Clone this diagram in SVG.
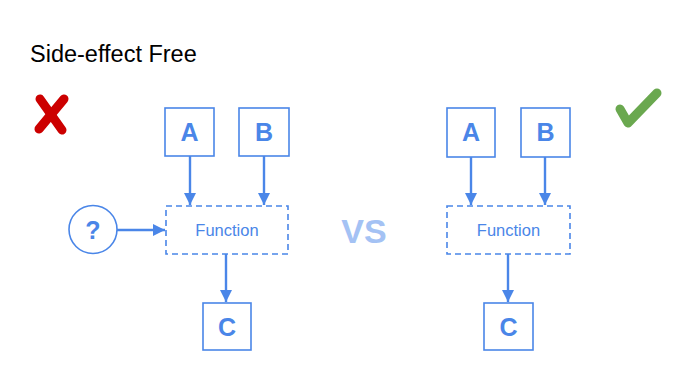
<svg xmlns="http://www.w3.org/2000/svg" width="680" height="383" viewBox="0 0 680 383">
<defs>
<style>
.box{fill:#fff;stroke:#4a86e8;stroke-width:1.6}
.fn{fill:#fff;stroke:#4a86e8;stroke-width:1.6;stroke-dasharray:6 4}
.lbl{font-family:"Liberation Sans",Arial,sans-serif;font-weight:bold;font-size:25px;fill:#4a86e8;text-anchor:middle}
.ft{font-family:"Liberation Sans",Arial,sans-serif;font-size:16.5px;fill:#4a86e8;text-anchor:middle}
.ar{stroke:#4a86e8;stroke-width:2.4;fill:none;marker-end:url(#ah)}
</style>
<marker id="ah" viewBox="0 0 10 10" refX="10" refY="5" markerWidth="5" markerHeight="5" orient="auto" markerUnits="strokeWidth">
<path d="M0,0 L10,5 L0,10 z" fill="#4a86e8"/>
</marker>
</defs>
<rect width="680" height="383" fill="#fff"/>
<text x="30" y="62" font-family="'Liberation Sans',Arial,sans-serif" font-size="23.5" fill="#000">Side-effect Free</text>
<g id="cross" stroke="#cc0000" stroke-width="9" stroke-linecap="round" fill="none">
<line x1="40" y1="99" x2="62" y2="130"/>
<line x1="64" y1="99" x2="39" y2="129"/>
</g>
<g id="check">
<polyline points="620,109 628,123 657,93" fill="none" stroke="#6aa84f" stroke-width="9" stroke-linecap="round" stroke-linejoin="round"/>
</g>
<text x="364" y="243" font-family="'Liberation Sans',Arial,sans-serif" font-weight="bold" font-size="34" fill="#a4c2f4" text-anchor="middle">VS</text>
<g id="connectors">
<line class="ar" x1="190" y1="156" x2="190" y2="205"/>
<line class="ar" x1="264" y1="156" x2="264" y2="205"/>
<line class="ar" x1="117" y1="230" x2="165" y2="230"/>
<line class="ar" x1="226" y1="254" x2="226" y2="302"/>
<line class="ar" x1="471" y1="157" x2="471" y2="205"/>
<line class="ar" x1="545" y1="157" x2="545" y2="205"/>
<line class="ar" x1="508" y1="254" x2="508" y2="302"/>
</g>
<g id="L-A"><rect class="box" x="165" y="108" width="49" height="48"/><text class="lbl" x="189.5" y="141">A</text></g>
<g id="L-B"><rect class="box" x="239" y="108" width="50" height="48"/><text class="lbl" x="264" y="141">B</text></g>
<g id="L-Q"><circle class="box" cx="93" cy="229.5" r="24"/><text class="lbl" x="93" y="239">?</text></g>
<g id="L-F"><rect class="fn" x="166" y="206" width="122" height="48"/><text class="ft" x="227" y="236">Function</text></g>
<g id="L-C"><rect class="box" x="203" y="303" width="48" height="47"/><text class="lbl" x="227" y="336">C</text></g>
<g id="R-A"><rect class="box" x="447" y="108" width="48" height="49"/><text class="lbl" x="471" y="141">A</text></g>
<g id="R-B"><rect class="box" x="521" y="108" width="49" height="49"/><text class="lbl" x="545.5" y="141">B</text></g>
<g id="R-F"><rect class="fn" x="447" y="206" width="123" height="48"/><text class="ft" x="508.5" y="236">Function</text></g>
<g id="R-C"><rect class="box" x="484" y="303" width="49" height="47"/><text class="lbl" x="508.5" y="336">C</text></g>
</svg>
